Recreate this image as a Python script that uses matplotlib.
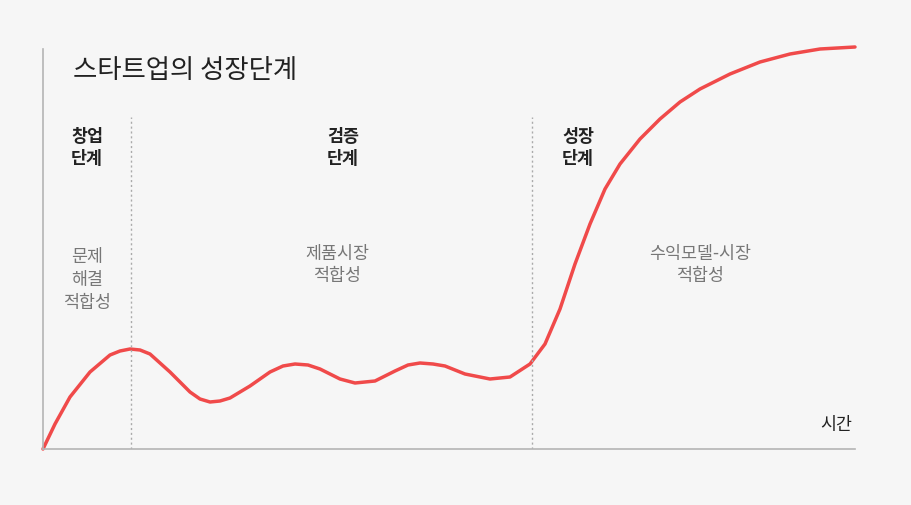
import matplotlib
matplotlib.use("Agg")
import matplotlib.pyplot as plt

plt.rcParams['font.family'] = ['Noto Sans CJK KR', 'DejaVu Sans']

# curve (x: time, y: growth; pixel-like units)
curve_x = [43, 55, 70, 90, 110, 120, 130, 140, 150, 170, 190, 200, 210, 220, 230, 250, 270, 283, 295,
           308, 320, 340, 355, 375, 395, 408, 420, 433, 445, 465, 490, 510, 530, 545, 560, 575,
           590, 605, 620, 640, 660, 680, 700, 730, 760, 790, 820, 855]
curve_y = [0, 25, 52, 77, 94, 98, 100, 99, 95, 77, 57, 50, 47, 48, 51, 63, 77, 83, 85,
           84, 80, 70, 66, 68, 78, 84, 86, 85, 83, 75, 70, 72, 85, 105, 140, 185,
           225, 260, 285, 310, 330, 347, 360, 375, 387, 395, 400, 402]

stage_x = [131, 532]
stage_names = ["창업\n단계", "검증\n단계", "성장\n단계"]
stage_name_x = [87, 343, 578]
fit_names = ["문제\n해결\n적합성", "제품시장\n적합성", "수익모델-시장\n적합성"]
fit_x = [87, 337, 700]
fit_y = [170, 185, 185]

fig = plt.figure(figsize=(9.12, 5.06), dpi=100, facecolor='#f6f6f6')
ax = fig.add_axes([43 / 912, 56 / 506, 812 / 912, 400 / 506])
ax.set_facecolor('#f6f6f6')
ax.set_xlim(43, 855)
ax.set_ylim(0, 400)
for s in ['top', 'right']:
    ax.spines[s].set_visible(False)
for s in ['left', 'bottom']:
    ax.spines[s].set_color('#b5b5b5')
    ax.spines[s].set_linewidth(1.2)
ax.set_xticks([])
ax.set_yticks([])

ax.plot(curve_x, curve_y, color='#f04a4a', lw=2.5, clip_on=False,
        solid_capstyle='round', solid_joinstyle='round')
for x in stage_x:
    ax.plot([x, x], [0, 332], color='#aaaaaa', lw=1, ls=(0, (1.5, 2)))

ax.text(73, 380, "스타트업의 성장단계", fontsize=19, color='#222222', va='center', ha='left')
for x, name in zip(stage_name_x, stage_names):
    ax.text(x, 302, name, fontsize=12.5, fontweight='bold', color='#222222',
            ha='center', va='center', linespacing=1.3)
for x, y, name in zip(fit_x, fit_y, fit_names):
    ax.text(x, y, name, fontsize=12.5, color='#777777', ha='center', va='center',
            linespacing=1.35)
ax.text(852, 25, "시간", fontsize=12.5, color='#222222', ha='right', va='center')

fig.savefig("out.png", dpi=100, facecolor=fig.get_facecolor())
